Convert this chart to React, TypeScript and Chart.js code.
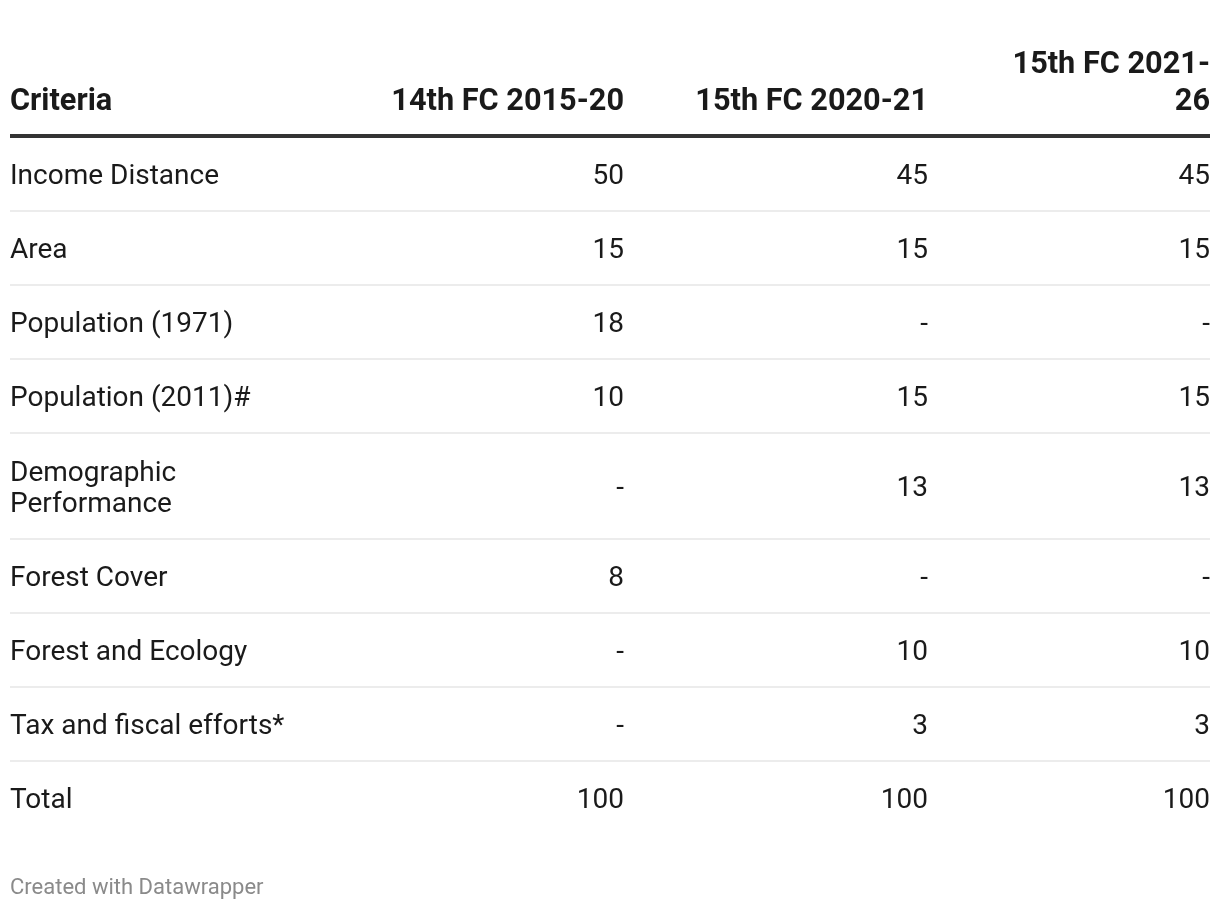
import React, { useEffect, useRef } from "react";
import { Chart, registerables } from "chart.js";

Chart.register(...registerables);

const headers = ["Criteria", "14th FC 2015-20", "15th FC 2020-21", "15th FC 2021-\n26"];
const criteria = [
  "Income Distance",
  "Area",
  "Population (1971)",
  "Population (2011)#",
  "Demographic\nPerformance",
  "Forest Cover",
  "Forest and Ecology",
  "Tax and fiscal efforts*",
  "Total",
];
const fc14_2015_20: (number | null)[] = [50, 15, 18, 10, null, 8, null, null, 100];
const fc15_2020_21: (number | null)[] = [45, 15, null, 15, 13, null, 10, 3, 100];
const fc15_2021_26: (number | null)[] = [45, 15, null, 15, 13, null, 10, 3, 100];
const footer = "Created with Datawrapper";

const W = 1220;
const H = 910;
const COL_X = [10, 624, 928, 1210];
const FONT = "Roboto, 'Noto Sans', sans-serif";
const FS = 28;
const HFS = 30.7;
const LINE = 31;
const ROW_EXTRA = 32;
const ROW_PAD = 72;
const TEXT = "#1a1a1a";

function layoutRows() {
  const centers: number[] = [];
  const seps: number[] = [];
  let start = 138;
  criteria.forEach((c, i) => {
    const lines = c.split("\n").length;
    const h = ROW_PAD + ROW_EXTRA * (lines - 1);
    centers.push(start + h / 2);
    if (i < criteria.length - 1) seps.push(start + h + 1);
    start += h + 2;
  });
  return { centers, seps };
}

export default function App() {
  const ref = useRef<HTMLCanvasElement | null>(null);
  useEffect(() => {
    document.body.style.margin = "0";
    const { centers, seps } = layoutRows();
    const cols = [criteria, fc14_2015_20, fc15_2020_21, fc15_2021_26];
    const datasets = cols.map((col, c) => ({
      label: headers[c],
      data: col.map((_, i) => ({ x: COL_X[c], y: centers[i] })),
      pointRadius: 0,
      showLine: false,
    }));

    const tablePlugin = {
      id: "tablePlugin",
      afterDatasetsDraw(chart: any) {
        const ctx = chart.ctx;
        const xs = chart.scales.x;
        const ys = chart.scales.y;
        ctx.save();
        ctx.textBaseline = "alphabetic";
        // header
        ctx.fillStyle = TEXT;
        ctx.font = `bold ${HFS}px ${FONT}`;
        headers.forEach((h, c) => {
          const lines = h.split("\n");
          ctx.textAlign = c === 0 ? "left" : "right";
          const px = xs.getPixelForValue(COL_X[c]);
          lines.forEach((ln, k) => {
            const base = ys.getPixelForValue(110 - (lines.length - 1 - k) * 37);
            ctx.fillText(ln, px, base);
          });
        });
        // thick rule
        ctx.fillStyle = "#333333";
        const x0 = xs.getPixelForValue(COL_X[0]);
        const x1 = xs.getPixelForValue(COL_X[3]);
        ctx.fillRect(x0, ys.getPixelForValue(134), x1 - x0, 4);
        // separators
        ctx.fillStyle = "#ececec";
        seps.forEach((s) => {
          ctx.fillRect(x0, ys.getPixelForValue(s) - 1, x1 - x0, 2);
        });
        // cells
        ctx.font = `${FS}px ${FONT}`;
        ctx.fillStyle = TEXT;
        chart.data.datasets.forEach((ds: any, c: number) => {
          const meta = chart.getDatasetMeta(c);
          meta.data.forEach((el: any, i: number) => {
            const raw = cols[c][i];
            const txt = raw === null ? "-" : String(raw);
            const lines = txt.split("\n");
            ctx.textAlign = c === 0 ? "left" : "right";
            lines.forEach((ln, k) => {
              const off = (k - (lines.length - 1) / 2) * LINE;
              ctx.fillText(ln, el.x, el.y + off + 10);
            });
          });
        });
        // footer
        ctx.font = `22px ${FONT}`;
        ctx.fillStyle = "#8a8a8a";
        ctx.textAlign = "left";
        ctx.fillText(footer, x0, ys.getPixelForValue(894));
        ctx.restore();
      },
    };

    const chart = new Chart(ref.current as HTMLCanvasElement, {
      type: "scatter",
      data: { datasets },
      options: {
        animation: false,
        responsive: false,
        maintainAspectRatio: false,
        layout: { padding: 0 },
        plugins: { legend: { display: false }, tooltip: { enabled: false } },
        scales: {
          x: { type: "linear", min: 0, max: W, display: false },
          y: { type: "linear", min: 0, max: H, reverse: true, display: false },
        },
      },
      plugins: [tablePlugin],
    });
    return () => chart.destroy();
  }, []);
  return (
    <div style={{ width: W, height: H, background: "#fff" }}>
      <canvas ref={ref} width={W} height={H} style={{ display: "block" }} />
    </div>
  );
}
